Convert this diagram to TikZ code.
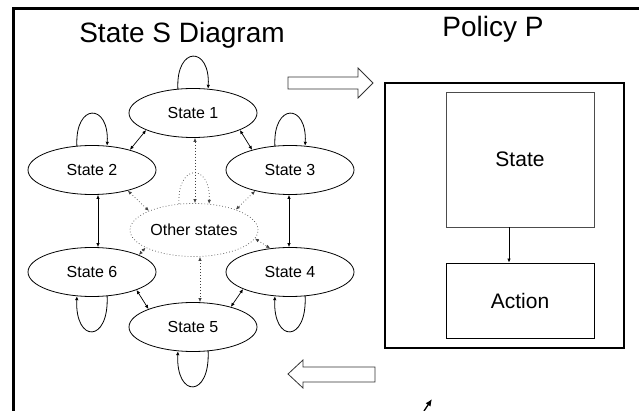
\documentclass[tikz,border=0pt]{standalone}
\usepackage{fontspec}
\setmainfont{Liberation Sans}
\usetikzlibrary{shapes.geometric,arrows.meta}
\begin{document}
\begin{tikzpicture}[x=1pt,y=-1pt,
  >={Latex[length=4pt,width=3.5pt]},
  st/.style={ellipse,draw,line width=0.8pt,minimum width=128pt,minimum height=49pt,inner sep=0pt,font=\fontsize{16}{18}\selectfont},
  dots/.style={line width=0.7pt,dash pattern=on 0.7pt off 2.3pt,black!75},
  link/.style={<->,line width=0.7pt},
  loopl/.style={->,line width=0.8pt},
  title/.style={font=\fontsize{28}{32}\selectfont,anchor=base},
  blk/.style={draw=black!80,line width=0.8pt,fill=white},
  box/.style={draw,line width=0.8pt,inner sep=0pt,minimum width=148pt,font=\fontsize{21}{24}\selectfont},
  ]
\useasboundingbox (0,0) rectangle (639,411);
\draw[line width=2.7pt] (13.7,411) -- (13.7,8.7) -- (639,8.7);

\node[title] (t1) at (182,43) {State S Diagram};
\node[title] (t2) at (493,37) {Policy P};

% states
\node[st] (s1) at (193,113) {State 1};
\node[st] (s2) at (92,170) {State 2};
\node[st] (s3) at (290,170) {State 3};
\node[st] (s6) at (92,272) {State 6};
\node[st] (s4) at (290,272) {State 4};
\node[st] (s5) at (193,327) {State 5};
\node[st,dots,text=black,minimum height=53pt] (o) at (194,230) {Other states};

% self loops
\draw[loopl] (s1.122) .. controls +(-2pt,43pt) and +(2pt,43pt) .. (s1.58);
\draw[loopl] (s2.122) .. controls +(-2pt,43pt) and +(2pt,43pt) .. (s2.58);
\draw[loopl] (s3.122) .. controls +(-2pt,43pt) and +(2pt,43pt) .. (s3.58);
\draw[loopl] (s6.-58) .. controls +(2pt,-47pt) and +(-2pt,-47pt) .. (s6.-122);
\draw[loopl] (s4.-58) .. controls +(2pt,-47pt) and +(-2pt,-47pt) .. (s4.-122);
\draw[loopl] (s5.-58) .. controls +(2pt,-47pt) and +(-2pt,-47pt) .. (s5.-122);
\draw[dots,->] (o.120) .. controls +(-2pt,41pt) and +(2pt,41pt) .. (o.60);

% solid links
\draw[link] (s1.200) -- (s2.28);
\draw[link] (s1.-20) -- (s3.152);
\draw[link] ([xshift=6pt]s2.south) -- ([xshift=6pt]s6.north);
\draw[link] ([xshift=-1pt]s3.south) -- ([xshift=-1pt]s4.north);
\draw[link] (s6.-22) -- (s5.158);
\draw[link] (s4.200) -- (s5.28);

% dotted links
\draw[dots,<->] ([xshift=2pt]s1.south) -- ([xshift=1pt]o.north);
\draw[dots,<->] ([xshift=6pt]o.south) -- ([xshift=7pt]s5.north);
\draw[dots,<->] (s2.-30) -- (o.157);
\draw[dots,<->] (s3.211) -- (o.26);
\draw[dots,<->] (o.200) -- (s6.20);
\draw[dots,<->] (o.-8) -- (s4.130);

% block arrows
\draw[blk] (288,77) -- (358,77) -- (358,68) -- (373,83) -- (358,98) -- (358,89) -- (288,89) -- cycle;
\draw[blk] (288,374) -- (303,360) -- (303,367) -- (375,367) -- (375,382) -- (303,382) -- (303,388) -- cycle;

% policy
\node[draw,line width=2.6pt,minimum width=239pt,minimum height=265pt,inner sep=0pt] (pol) at (504.5,215.5) {};
\node[box,draw=black!70,minimum height=135pt] (ps) at (520,159.5) {State};
\node[box,minimum height=75pt] (pa) at (520,300.5) {Action};
\draw[->,line width=0.8pt] ([xshift=-11pt]ps.south) -- ([xshift=-11pt]pa.north);

% cursor
\coordinate (c0) at (424,411);
\coordinate (c1) at (432,399);
\draw[line width=1.3pt,-{Latex[length=7pt,width=6pt]}] (c0) -- (c1);
\end{tikzpicture}
\end{document}
